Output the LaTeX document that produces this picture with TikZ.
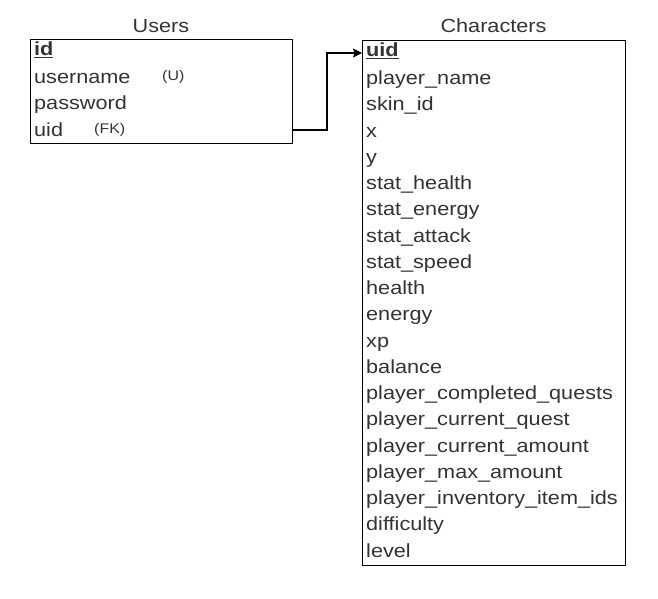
\documentclass[tikz,border=0pt]{standalone}
\usepackage{fontspec}
\setmainfont{Liberation Sans}[FakeStretch=1.14]
\usetikzlibrary{arrows.meta}
\definecolor{txt}{HTML}{333333}
\tikzset{
  tablebox/.style={draw=black, line width=1.2pt, fill=white, anchor=north west, inner sep=0pt},
  field/.style={anchor=base west, inner sep=0pt, text=txt, font=\fontsize{19}{23}\selectfont},
  keyfield/.style={field, font=\fontsize{19}{23}\selectfont\bfseries},
  note/.style={anchor=base west, inner sep=0pt, text=txt, font=\fontsize{14}{17}\selectfont},
  title/.style={anchor=base, inner sep=0pt, text=txt, font=\fontsize{19}{23}\selectfont},
  conn/.style={draw=black, line width=1.5pt, -{Stealth[length=9pt,width=9pt,inset=1.5pt]}}
}
\begin{document}
\begin{tikzpicture}[x=1pt,y=-1pt]
\useasboundingbox (0,0) rectangle (658,599);

% Users table
\node[tablebox, minimum width=262pt, minimum height=104pt] (users) at (30,39) {};
\node[title] (userstitle) at (161,33) {Users};
\node[keyfield] (uid0) at (34,56) {\underline{id}};
\node[field] (uname) at (34,84) {username};
\node[note] (uu) at (162,81) {(U)};
\node[field] (upass) at (34,110) {password};
\node[field] (uuid) at (34,136) {uid};
\node[note] (ufk) at (94,133) {(FK)};
\coordinate (uuidrow) at (30,130);

% Characters table
\node[tablebox, minimum width=263pt, minimum height=525pt] (chars) at (362,40) {};
\node[title] (charstitle) at (493.5,33) {Characters};
\coordinate (cuidrow) at (362,53);
\node[keyfield] (c0) at (366,56.5) {\underline{uid}};
\foreach \i/\t in {1/player\_name,2/skin\_id,3/x,4/y,5/stat\_health,6/stat\_energy,
  7/stat\_attack,8/stat\_speed,9/health,10/energy,11/xp,12/balance,
  13/player\_completed\_quests,14/player\_current\_quest,15/player\_current\_amount,
  16/player\_max\_amount,17/player\_inventory\_item\_ids,18/difficulty,19/level}{
  \node[field] (c\i) at (366,{40+26.25*\i+18.4}) {\t};
}

% connector
\draw[conn] (users.east |- uuidrow) -- ++(34,0) |- (chars.west |- cuidrow);
\end{tikzpicture}
\end{document}
